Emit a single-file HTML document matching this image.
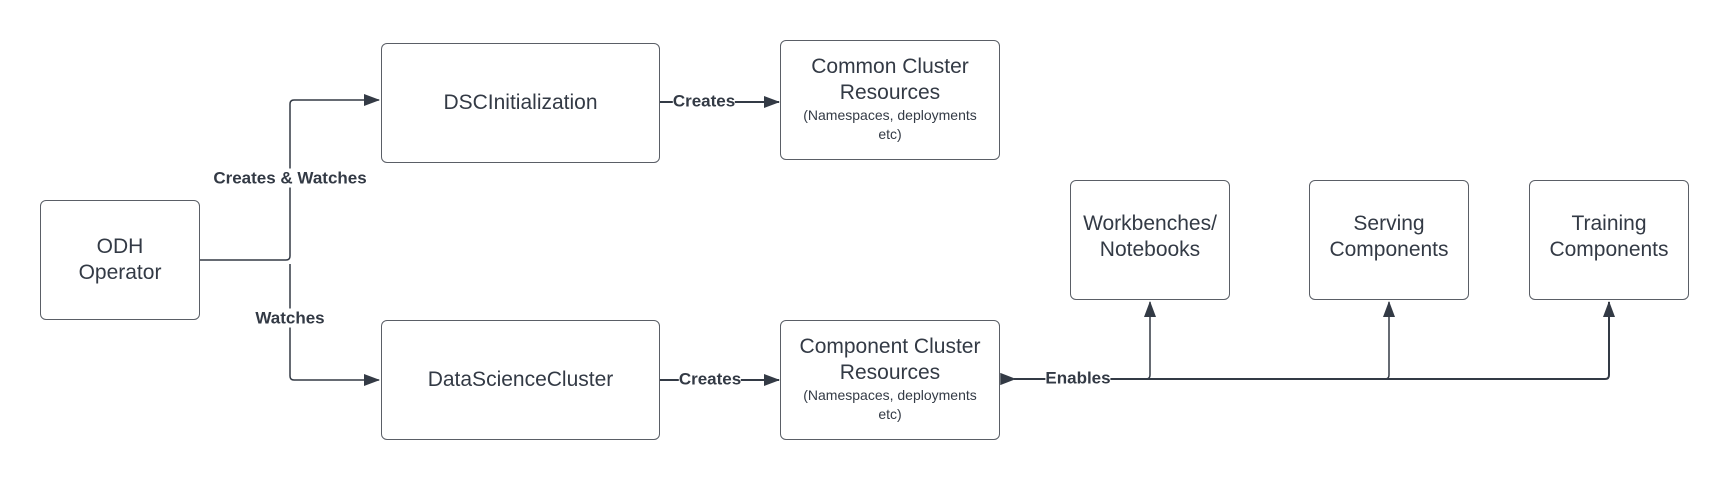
<!DOCTYPE html>
<html><head><meta charset="utf-8"><style>
html,body{margin:0;padding:0;background:#fff;}
body{width:1730px;height:480px;position:relative;overflow:hidden;font-family:"Liberation Sans",sans-serif;color:#333a45;}
.b{position:absolute;box-sizing:border-box;border:1.5px solid #5a5e66;border-radius:6px;background:#fff;display:flex;flex-direction:column;align-items:center;justify-content:center;text-align:center;font-size:21px;line-height:26px;}
.s{font-size:14px;line-height:19px;}
.l{position:absolute;font-weight:bold;font-size:17px;background:#fff;line-height:19px;white-space:nowrap;transform:translate(-50%,-50%);}
svg{position:absolute;left:0;top:0;}
</style></head><body>
<svg width="1730" height="480">
<defs><marker id="a2" markerWidth="16" markerHeight="12" refX="15" refY="6" orient="auto" markerUnits="userSpaceOnUse" viewBox="0 0 16 12"><path d="M0,0 L16,6 L0,12 z" fill="#333a45"/></marker></defs>
<g fill="none" stroke="#333a45" stroke-width="1.5">
<path d="M200,260 H286 Q290,260 290,256 V104 Q290,100 294,100 H379" marker-end="url(#a2)"/>
<path d="M290,264 V376 Q290,380 294,380 H379" marker-end="url(#a2)"/>
<path d="M660,102 H779" stroke-width="2" marker-end="url(#a2)"/>
<path d="M660,380 H779" stroke-width="2" marker-end="url(#a2)"/>
<path d="M1014,379 H1605 Q1609,379 1609,375 V302" stroke-width="2" marker-end="url(#a2)"/>
<path d="M1146,379 Q1150,379 1150,375 V302" marker-end="url(#a2)"/>
<path d="M1385,379 Q1389,379 1389,375 V302" marker-end="url(#a2)"/>
<path d="M1001,374 L1014,379 L1001,384 z" fill="#333a45"/>
</g>
</svg>
<div class="b" style="left:40px;top:200px;width:160px;height:120px;">ODH<br>Operator</div>
<div class="b" style="left:381px;top:43px;width:279px;height:120px;">DSCInitialization</div>
<div class="b" style="left:780px;top:40px;width:220px;height:120px;justify-content:flex-start;padding-top:13px;">Common Cluster<br>Resources<div class="s">(Namespaces, deployments<br>etc)</div></div>
<div class="b" style="left:381px;top:320px;width:279px;height:120px;">DataScienceCluster</div>
<div class="b" style="left:780px;top:320px;width:220px;height:120px;justify-content:flex-start;padding-top:13px;">Component Cluster<br>Resources<div class="s">(Namespaces, deployments<br>etc)</div></div>
<div class="b" style="left:1070px;top:180px;width:160px;height:120px;justify-content:flex-start;padding-top:30px;">Workbenches/<br>Notebooks</div>
<div class="b" style="left:1309px;top:180px;width:160px;height:120px;justify-content:flex-start;padding-top:30px;">Serving<br>Components</div>
<div class="b" style="left:1529px;top:180px;width:160px;height:120px;justify-content:flex-start;padding-top:30px;">Training<br>Components</div>
<div class="l" style="left:290px;top:178px;">Creates &amp; Watches</div>
<div class="l" style="left:290px;top:318px;">Watches</div>
<div class="l" style="left:704px;top:101px;">Creates</div>
<div class="l" style="left:710px;top:379px;">Creates</div>
<div class="l" style="left:1078px;top:378px;">Enables</div>
</body></html>
